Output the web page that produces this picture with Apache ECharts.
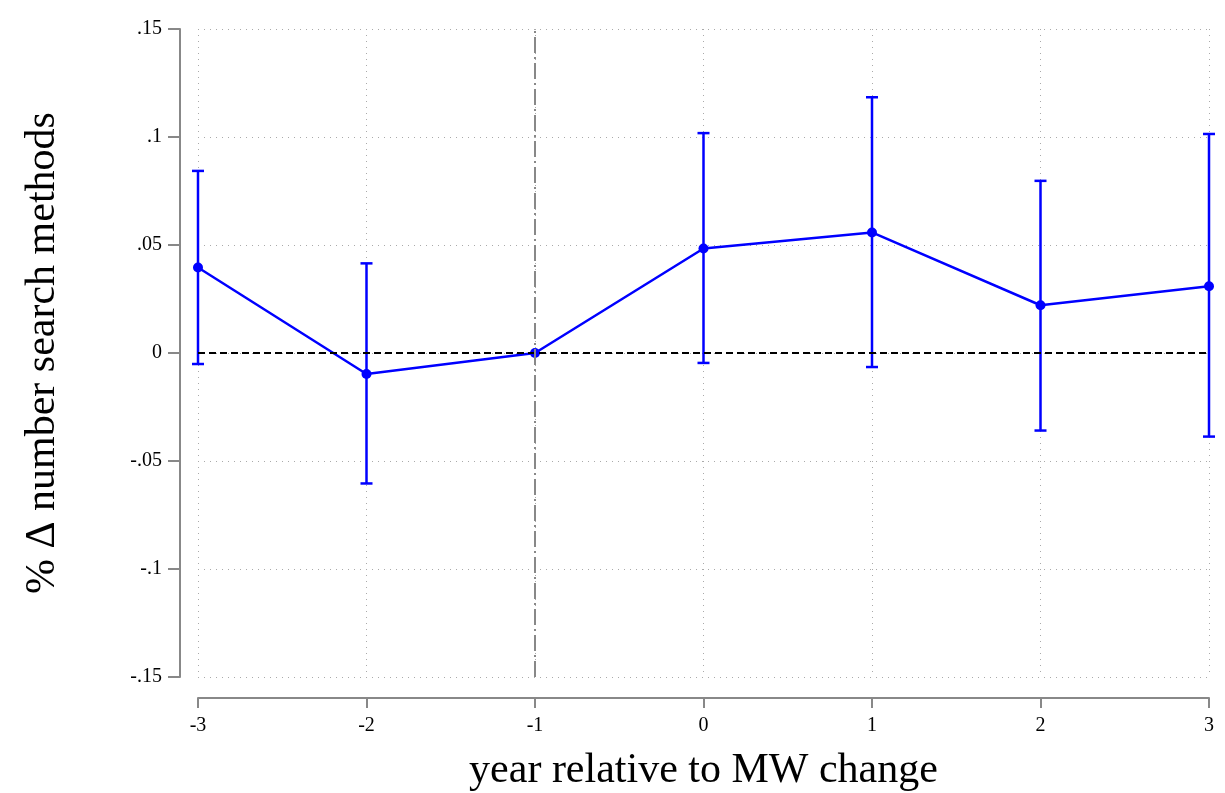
<!DOCTYPE html>
<html><head><meta charset="utf-8">
<script src="https://cdn.jsdelivr.net/npm/echarts@6/dist/echarts.min.js"></script>
<style>html,body{margin:0;padding:0;background:#fff}#c{width:1225px;height:793px}</style>
</head><body><div id="c"></div>
<script>
const years = [-3, -2, -1, 0, 1, 2, 3];
const coef  = [0.0396, -0.0097, 0.0, 0.0484, 0.0558, 0.0221, 0.0309];
const upper = [0.0843, 0.0415, null, 0.1018, 0.1184, 0.0797, 0.1014];
const lower = [-0.0051, -0.0604, null, -0.0046, -0.0065, -0.0359, -0.0387];
const yTicks = [-0.15, -0.1, -0.05, 0, 0.05, 0.1, 0.15];
const yTickLabels = ['-.15', '-.1', '-.05', '0', '.05', '.1', '.15'];

const blue = '#0000ff';
const font = 'Liberation Serif';
const chart = echarts.init(document.getElementById('c'));
const ciData = years.map((y, i) => [y, lower[i], upper[i]]).filter(d => d[1] !== null);

chart.setOption({
  animation: false,
  grid: { left: 198, right: 16, top: 29, bottom: 116, containLabel: false, outerBoundsMode: 'none' },
  xAxis: {
    type: 'value', min: -3, max: 3, interval: 1, offset: 21,
    name: 'year relative to MW change', nameLocation: 'middle', nameGap: 52,
    nameTextStyle: { fontFamily: font, fontSize: 42, color: '#000' },
    axisLine: { show: true, onZero: false, lineStyle: { color: '#888', width: 2 } },
    axisTick: { show: true, length: 10, lineStyle: { color: '#888', width: 2 } },
    axisLabel: { fontFamily: font, fontSize: 20, color: '#000', margin: 18 },
    splitLine: { show: true, lineStyle: { color: '#aaa', type: [1, 5], width: 1 } }
  },
  yAxis: {
    type: 'value', min: -0.15, max: 0.15, interval: 0.05, offset: 18,
    name: '% \u0394 number search methods', nameLocation: 'middle', nameGap: 116,
    nameTextStyle: { fontFamily: font, fontSize: 42, color: '#000' },
    axisLine: { show: true, onZero: false, lineStyle: { color: '#888', width: 2 } },
    axisTick: { show: true, length: 12, lineStyle: { color: '#888', width: 2 } },
    axisLabel: { fontFamily: font, fontSize: 20, color: '#000', margin: 18,
      formatter: v => { const i = yTicks.findIndex(t => Math.abs(t - v) < 1e-9); return i >= 0 ? yTickLabels[i] : ''; } },
    splitLine: { show: true, lineStyle: { color: '#aaa', type: [1, 5], width: 1 } }
  },
  series: [
    {
      type: 'custom',
      data: ciData,
      z: 3,
      renderItem: (params, api) => {
        const x = api.value(0);
        const lo = api.coord([x, api.value(1)]);
        const hi = api.coord([x, api.value(2)]);
        const w = 6;
        const st = { stroke: blue, lineWidth: 2.5 };
        return { type: 'group', children: [
          { type: 'line', shape: { x1: lo[0], y1: lo[1], x2: hi[0], y2: hi[1] }, style: st },
          { type: 'line', shape: { x1: lo[0] - w, y1: lo[1], x2: lo[0] + w, y2: lo[1] }, style: st },
          { type: 'line', shape: { x1: hi[0] - w, y1: hi[1], x2: hi[0] + w, y2: hi[1] }, style: st }
        ]};
      }
    },
    {
      type: 'line',
      data: years.map((y, i) => [y, coef[i]]),
      z: 4,
      symbol: 'circle', symbolSize: 10,
      itemStyle: { color: blue },
      lineStyle: { color: blue, width: 2.5 },
      markLine: {
        silent: true, symbol: 'none', label: { show: false },
        data: [
          { yAxis: 0, lineStyle: { color: '#000', type: [7, 4], width: 2 } },
          { xAxis: -1, lineStyle: { color: '#888', type: [16, 4, 2, 4], width: 2 } }
        ]
      }
    }
  ]
});
</script></body></html>
